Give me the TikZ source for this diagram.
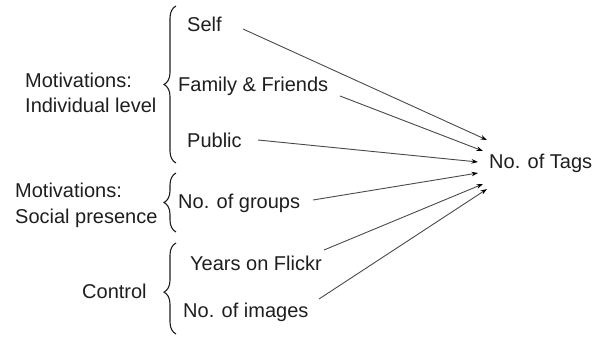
\documentclass[tikz,border=0pt]{standalone}
\usepackage{fontspec}
\setmainfont{Liberation Sans}
\usetikzlibrary{arrows.meta,decorations.pathreplacing}
\definecolor{txt}{HTML}{1E1E1E}
\definecolor{ln}{HTML}{4A4A4A}
\tikzset{
  lbl/.style={anchor=base west,inner sep=0pt,text=txt,font=\fontsize{20}{25.5}\selectfont,align=left},
  arr/.style={draw=ln,line width=0.9pt,-{Stealth[length=6.5pt,width=4.5pt,color=black]}},
  brc/.style={draw=txt,line width=1.1pt,decorate,decoration={brace,amplitude=12pt}}
}
\begin{document}
\begin{tikzpicture}[x=1pt,y=-1pt]
\useasboundingbox (0,0) rectangle (603,337);
% left labels
\node[lbl] (mi) at (25,113) {Motivations:\\Individual level};
\node[lbl] (ms) at (15,223) {Motivations:\\Social presence};
\node[lbl] (ctl) at (82,298) {Control};
% braces
\draw[brc] (176,163) -- (176,6);
\draw[brc] (176,232) -- (176,173);
\draw[brc,decoration={aspect=0.46}] (176,334) -- (176,243);
% items
\node[lbl] (self) at (187,32) {Self};
\node[lbl] (fam) at (178,92) {Family \& Friends};
\node[lbl] (pub) at (187,147) {Public};
\node[lbl] (grp) at (178,208) {No. of groups};
\node[lbl] (yrs) at (190,270) {Years on Flickr};
\node[lbl] (img) at (183,317) {No. of images};
\node[lbl] (tags) at (489,168) {No. of Tags};
% connector ends
\coordinate (s1) at (243,29);  \coordinate (e1) at (487,140);
\coordinate (s2) at (340,96);  \coordinate (e2) at (483,151);
\coordinate (s3) at (258,140); \coordinate (e3) at (478,162);
\coordinate (s4) at (313,200); \coordinate (e4) at (478,173);
\coordinate (s5) at (324,250); \coordinate (e5) at (483,184);
\coordinate (s6) at (319,299); \coordinate (e6) at (487,189);
\draw[arr] (s1) -- (e1);
\draw[arr] (s2) -- (e2);
\draw[arr] (s3) -- (e3);
\draw[arr] (s4) -- (e4);
\draw[arr] (s5) -- (e5);
\draw[arr] (s6) -- (e6);
\end{tikzpicture}
\end{document}
